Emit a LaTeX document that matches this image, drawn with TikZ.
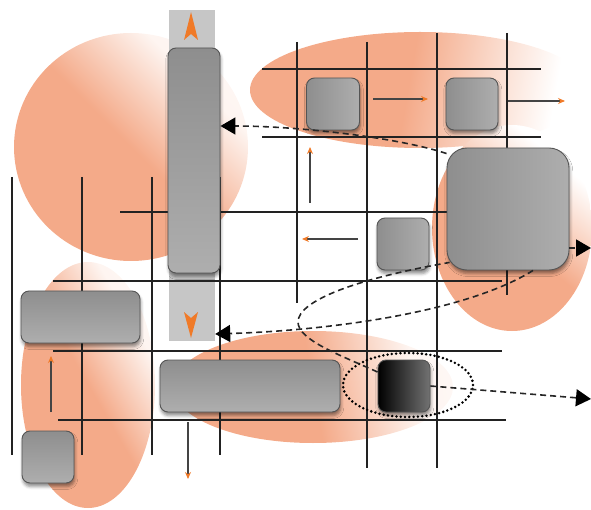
\documentclass[tikz,border=0pt]{standalone}
\usetikzlibrary{arrows.meta,shapes.geometric,shadows.blur}
\definecolor{orC}{HTML}{F4AA89}
\definecolor{tipC}{HTML}{F07A28}
\definecolor{lineC}{HTML}{222222}
\definecolor{arC}{HTML}{444444}
\definecolor{ndA}{HTML}{8E8E8E}
\definecolor{ndB}{HTML}{AEAEAE}
\definecolor{ndE}{HTML}{555555}
\pgfdeclarehorizontalshading{orfade}{100bp}{color(0bp)=(orC); color(25bp)=(orC); color(50bp)=(orC); color(70bp)=(orC!12!white); color(100bp)=(white)}
\pgfdeclarehorizontalshading{orfadeb}{100bp}{color(0bp)=(orC); color(25bp)=(orC); color(48bp)=(orC); color(62bp)=(orC!40!white); color(72bp)=(white); color(100bp)=(white)}
\begin{document}
\begin{tikzpicture}[x=1pt,y=-1pt,
  grid/.style={draw=lineC, line width=1.1pt},
  blob/.style={shading=orfade},
  blobb/.style={shading=orfadeb},
  box/.style={draw=ndE, line width=0.9pt, rounded corners=8pt, inner sep=0pt,
    blur shadow={shadow xshift=0.8pt, shadow yshift=-3.5pt, shadow blur radius=3pt, shadow opacity=45}},
  hgrad/.style={left color=ndA, right color=ndB},
  vgrad/.style={top color=ndA, bottom color=ndB},
  oarrow/.style={draw=arC, line width=1.1pt, -{Stealth[length=7pt, width=6pt, color=tipC]}},
  dsh/.style={draw=black!85, line width=1.6pt, dash pattern=on 6pt off 4pt},
  dsharr/.style={dsh, -{Triangle[length=15pt, width=17pt, color=black]}}
]
\useasboundingbox (0,0) rectangle (591,510);

% soft orange regions
\shade[blob, shading angle=45] (131,147) ellipse [x radius=117pt, y radius=114pt];
\shade[blobb, shading angle=-10] (420,90) ellipse [x radius=170pt, y radius=58pt];
\shade[blobb, shading angle=50] (512,228) ellipse [x radius=80pt, y radius=103pt];
\shade[blob, shading angle=30] (88,385) ellipse [x radius=67pt, y radius=123pt];
\shade[blob, shading angle=10] (313,387) ellipse [x radius=140pt, y radius=56pt];

% track of the tall block
\node[fill=gray!45, minimum width=46pt, minimum height=331pt, inner sep=0pt] (trail) at (192,175.5) {};

% grid
\draw[grid] (12,177) -- (12,455);
\draw[grid] (82,177) -- (82,455);
\draw[grid] (152,177) -- (152,455);
\draw[grid] (220,177) -- (220,455);
\draw[grid] (297,42) -- (297,303);
\draw[grid] (367,42) -- (367,468);
\draw[grid] (437,33) -- (437,468);
\draw[grid] (507,33) -- (507,295);
\draw[grid] (262,69) -- (541,69);
\draw[grid] (262,137) -- (541,137);
\draw[grid] (120,212) -- (447,212);
\draw[grid] (53,281) -- (502,281);
\draw[grid] (53,351) -- (502,351);
\draw[grid] (58,420) -- (506,420);

% heads on the track
\fill[tipC] (191,12) -- (198,40) -- (191,34) -- (184,40) -- cycle;
\fill[tipC] (191,338) -- (198,312) -- (191,318) -- (184,312) -- cycle;

% blocks
\node[box, vgrad, minimum width=52pt, minimum height=225pt] (tallR) at (194,160.5) {};
\node[box, hgrad, minimum width=53pt, minimum height=52pt] (top1) at (333,104) {};
\node[box, hgrad, minimum width=52pt, minimum height=52pt] (top2) at (472,104) {};
\node[box, hgrad, rounded corners=20pt, minimum width=122pt, minimum height=122pt] (big) at (508,209) {};
\node[box, hgrad, minimum width=52pt, minimum height=52pt] (mid) at (403,244) {};
\node[box, vgrad, minimum width=119pt, minimum height=52pt] (leftW) at (80.5,317) {};
\node[box, vgrad, minimum width=52pt, minimum height=52pt] (botL) at (48,457) {};
\node[box, vgrad, minimum width=180pt, minimum height=52pt] (botW) at (250,386) {};
\node[box, left color=black, middle color=black, right color=black!55, minimum width=52pt, minimum height=52pt] (blk) at (404,386) {};

% dotted ring
\node[draw=black, ellipse, minimum width=130pt, minimum height=64pt, line width=2.8pt,
  dash pattern=on 0pt off 4.3pt, line cap=round] (ring) at (408,385) {};

% dashed connectors
\coordinate (eR1) at (591,248);
\coordinate (eR2) at (591,399);
\draw[dsharr] ([yshift=-6pt]big.north west) .. controls (400,138) and (300,126) .. ([yshift=34.5pt]tallR.east);
\draw[dsharr] ([yshift=-39pt]big.east) -- (eR1);
\draw[dsharr] ([xshift=25pt]big.south) .. controls (470,310) and (340,330) .. ([yshift=-158.5pt]trail.east);
\draw[dsh] ([yshift=14pt]blk.west) .. controls (340,355) and (298,340) .. (298,322)
  .. controls (298,300) and (360,278) .. ([xshift=3pt,yshift=8pt]big.south west);
\draw[dsharr] (blk.east) -- (eR2);

% small orange arrows
\coordinate (o1a) at (373,99);  \coordinate (o1b) at (428,99);
\coordinate (o2a) at (508,101); \coordinate (o2b) at (565,101);
\coordinate (o3a) at (310,203); \coordinate (o3b) at (310,147);
\coordinate (o4a) at (358,239); \coordinate (o4b) at (302,239);
\coordinate (o5a) at (51,412);  \coordinate (o5b) at (51,356);
\coordinate (o6a) at (188,422); \coordinate (o6b) at (188,479);
\draw[oarrow] (o1a) -- (o1b);
\draw[oarrow] (o2a) -- (o2b);
\draw[oarrow] (o3a) -- (o3b);
\draw[oarrow] (o4a) -- (o4b);
\draw[oarrow] (o5a) -- (o5b);
\draw[oarrow] (o6a) -- (o6b);
\end{tikzpicture}
\end{document}
